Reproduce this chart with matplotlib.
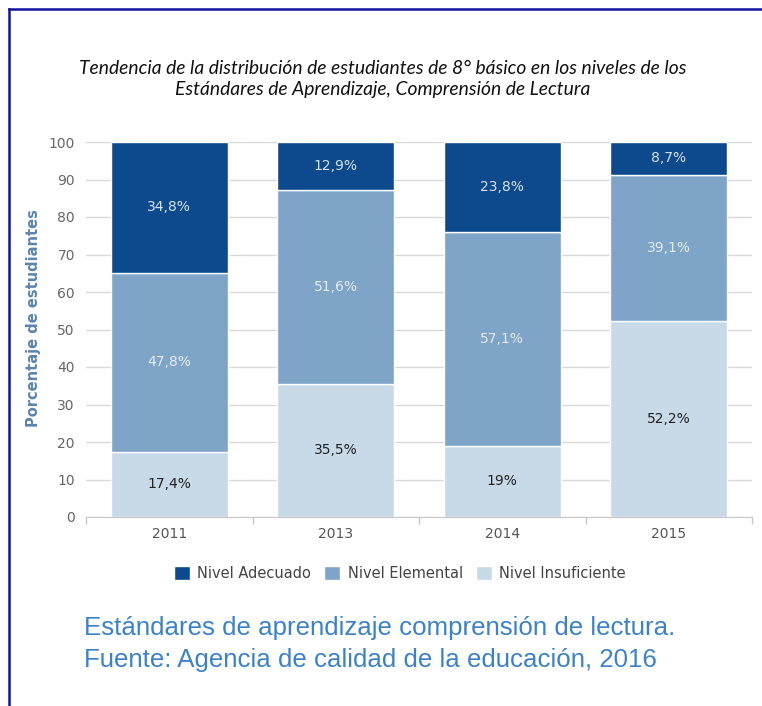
import numpy as np
import matplotlib.pyplot as plt
from matplotlib.lines import Line2D

years = ['2011', '2013', '2014', '2015']
insuficiente = [17.4, 35.5, 19.0, 52.2]
elemental = [47.8, 51.6, 57.1, 39.1]
adecuado = [34.8, 12.9, 23.8, 8.7]
etiq_insuf = ['17,4%', '35,5%', '19%', '52,2%']
etiq_elem = ['47,8%', '51,6%', '57,1%', '39,1%']
etiq_adec = ['34,8%', '12,9%', '23,8%', '8,7%']
yticks = [0, 10, 20, 30, 40, 50, 60, 70, 80, 90, 100]

c_adec = '#0d4a8d'
c_elem = '#7ea4c7'
c_insuf = '#c8d9e7'

W, H = 762, 706
fig = plt.figure(figsize=(W / 100, H / 100), dpi=100)
fig.patch.set_facecolor('white')

# border, left and top only
fig.add_artist(Line2D([8.5 / W, 8.5 / W], [0, 1 - 8.5 / H], color='#1212a0', lw=1.8))
fig.add_artist(Line2D([8.5 / W, 1], [1 - 8.5 / H, 1 - 8.5 / H], color='#1212a0', lw=1.8))

ax = fig.add_axes([86 / W, (H - 517) / H, (752 - 86) / W, 375 / H])
x = np.arange(len(years))
bw = 0.70

b1 = ax.bar(x, insuficiente, bw, color=c_insuf, edgecolor='white', lw=1, zorder=3)
bot2 = np.array(insuficiente)
b2 = ax.bar(x, elemental, bw, bottom=bot2, color=c_elem, edgecolor='white', lw=1, zorder=3)
bot3 = bot2 + np.array(elemental)
b3 = ax.bar(x, adecuado, bw, bottom=bot3, color=c_adec, edgecolor='white', lw=1, zorder=3)

for i in range(len(years)):
    ax.text(x[i], insuficiente[i] / 2, etiq_insuf[i], ha='center', va='center',
            fontsize=10, color='#222222', zorder=4)
    ax.text(x[i], bot2[i] + elemental[i] / 2, etiq_elem[i], ha='center', va='center',
            fontsize=10, color='#e4ecf5', zorder=4)
    ax.text(x[i], bot3[i] + adecuado[i] / 2, etiq_adec[i], ha='center', va='center',
            fontsize=10, color='#d6e2f0', zorder=4)

ax.set_xlim(-0.5, 3.5)
ax.set_ylim(0, 100)
ax.set_yticks(yticks)
ax.set_xticks(x)
ax.set_xticklabels(years)
ax.set_xticks(np.arange(-0.5, 4.0, 1.0), minor=True)
ax.tick_params(axis='x', which='major', length=0, pad=7, labelsize=10, labelcolor='#555555')
ax.tick_params(axis='x', which='minor', length=5, color='#c8c8c8', width=1)
ax.tick_params(axis='y', length=0, pad=8, labelsize=10, labelcolor='#666666')
ax.grid(axis='y', color='#d9d9d9', lw=1, zorder=0)
for s in ['top', 'right', 'left']:
    ax.spines[s].set_visible(False)
ax.spines['bottom'].set_color('#c8c8c8')
ax.spines['bottom'].set_zorder(5)

ax.set_ylabel('Porcentaje de estudiantes', fontsize=10.5, color='#5a85b0',
              fontweight='semibold')
ax.yaxis.set_label_coords(-0.067, 0.53)

fig.text(383 / W, 1 - 79 / H,
         'Tendencia de la distribución de estudiantes de 8° básico en los niveles de los\n'
         'Estándares de Aprendizaje, Comprensión de Lectura',
         ha='center', va='center', fontsize=13.9, style='italic',
         color='#111111', linespacing=1.25, family='Lato')

leg = fig.legend(handles=[b3, b2, b1],
                 labels=['Nivel Adecuado', 'Nivel Elemental', 'Nivel Insuficiente'],
                 loc='center', bbox_to_anchor=(400 / W, 1 - 573 / H), ncol=3,
                 frameon=False, fontsize=10.5, handlelength=1.1, handleheight=1.1,
                 handletextpad=0.5, columnspacing=0.9)
for t in leg.get_texts():
    t.set_color('#444444')

fig.text(84 / W, 1 - 628 / H, 'Estándares de aprendizaje comprensión de lectura.',
         ha='left', va='center', fontsize=18.6, color='#3b82c9', family='Liberation Sans')
fig.text(84 / W, 1 - 660 / H, 'Fuente: Agencia de calidad de la educación, 2016',
         ha='left', va='center', fontsize=18.6, color='#3b82c9', family='Liberation Sans')

fig.savefig('out.png', dpi=100)
